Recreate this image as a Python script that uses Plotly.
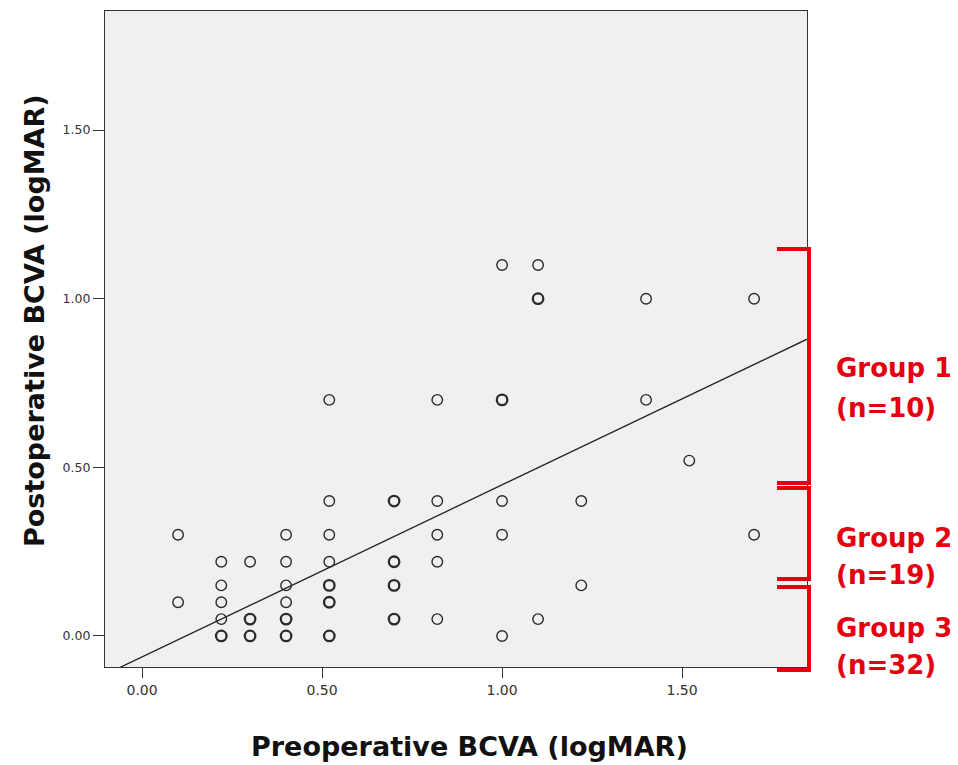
import plotly.graph_objects as go
from collections import Counter

# ---- data ----
pre_bcva = [
    1.00, 1.10,
    1.10, 1.10, 1.40, 1.70,
    0.52, 0.82, 1.00, 1.00, 1.40,
    1.52,
    0.52, 0.70, 0.70, 0.82, 1.00, 1.22,
    0.10, 0.40, 0.52, 0.82, 1.00, 1.70,
    0.22, 0.30, 0.40, 0.52, 0.70, 0.70, 0.82,
    0.22, 0.40, 0.52, 0.52, 0.70, 0.70, 1.22,
    0.10, 0.22, 0.40, 0.52, 0.52,
    0.22, 0.30, 0.30, 0.40, 0.40, 0.70, 0.70, 0.82, 1.10,
    0.22, 0.22, 0.30, 0.30, 0.40, 0.40, 0.52, 0.52, 1.00,
]
post_bcva = [
    1.10, 1.10,
    1.00, 1.00, 1.00, 1.00,
    0.70, 0.70, 0.70, 0.70, 0.70,
    0.52,
    0.40, 0.40, 0.40, 0.40, 0.40, 0.40,
    0.30, 0.30, 0.30, 0.30, 0.30, 0.30,
    0.22, 0.22, 0.22, 0.22, 0.22, 0.22, 0.22,
    0.15, 0.15, 0.15, 0.15, 0.15, 0.15, 0.15,
    0.10, 0.10, 0.10, 0.10, 0.10,
    0.05, 0.05, 0.05, 0.05, 0.05, 0.05, 0.05, 0.05, 0.05,
    0.00, 0.00, 0.00, 0.00, 0.00, 0.00, 0.00, 0.00, 0.00,
]
fit_intercept = -0.062
fit_slope = 0.51

x_ticks = [0.0, 0.5, 1.0, 1.5]
y_ticks = [0.0, 0.5, 1.0, 1.5]
x_range = [-0.103, 1.847]
y_range = [-0.092, 1.853]

group_lines = [("Group 1", "(n=10)"), ("Group 2", "(n=19)"), ("Group 3", "(n=32)")]

# ---- figure ----
OFF = 8  # page body margin
W, H = 958 - OFF, 765 - OFF
L, R, T, B = 105 - OFF, 807 - OFF, 11 - OFF, 667 - OFF

def px(xp):
    return (xp - OFF - L) / (R - L)

def py(yp):
    return (B - (yp - OFF)) / (B - T)

counts = Counter(zip(pre_bcva, post_bcva))
ux = [k[0] for k in counts]
uy = [k[1] for k in counts]
lw = [2.3 if counts[k] > 1 else 1.4 for k in counts]

fig = go.Figure()
fig.add_trace(go.Scatter(
    x=[x_range[0], x_range[1]],
    y=[fit_intercept + fit_slope * x_range[0], fit_intercept + fit_slope * x_range[1]],
    mode="lines", line=dict(color="#222222", width=1.3), hoverinfo="skip",
))
fig.add_trace(go.Scatter(
    x=ux, y=uy, mode="markers",
    marker=dict(symbol="circle-open", size=10.5, color="#2a2a2a", line=dict(width=lw, color="#2a2a2a")),
))

axis_common = dict(
    showgrid=False, zeroline=False, showline=True, linecolor="#333333", linewidth=1.3,
    mirror=True, ticks="outside", tickcolor="#333333", tickwidth=1.3,
    tickformat=".2f",
)
fig.update_xaxes(range=x_range, tickvals=x_ticks, ticklen=10,
                 tickfont=dict(family="DejaVu Sans", size=14, color="#333333"), **axis_common)
fig.update_yaxes(range=y_range, tickvals=y_ticks, ticklen=11,
                 tickfont=dict(family="DejaVu Sans", size=12.5, color="#333333"), **axis_common)

shapes = []
red = "#e50010"
brackets = [(249, 483), (488, 579), (587, 670)]
for (t, b) in brackets:
    shapes.append(dict(
        type="path", xref="paper", yref="paper",
        path=f"M {px(777)} {py(t)} L {px(809)} {py(t)} L {px(809)} {py(b)} L {px(777)} {py(b)}",
        line=dict(color=red, width=4),
    ))

title_font = dict(family="DejaVu Sans", size=27, color="#111111")
annotations = [
    dict(text="<b>Preoperative BCVA (logMAR)</b>", xref="paper", yref="paper",
         x=px(469), y=py(746), showarrow=False, xanchor="center", yanchor="middle",
         font=title_font),
    dict(text="<b>Postoperative BCVA (logMAR)</b>", xref="paper", yref="paper",
         x=px(34), y=py(321), showarrow=False, xanchor="center", yanchor="middle", textangle=-90,
         font=title_font),
]
label_y = [(368, 408), (538, 575), (628, 665)]
for (g, n), (y1, y2) in zip(group_lines, label_y):
    for txt, yy in ((g, y1), (n, y2)):
        annotations.append(dict(
            text=f"<b>{txt}</b>", xref="paper", yref="paper", x=px(834), y=py(yy),
            showarrow=False, xanchor="left", yanchor="middle",
            font=dict(family="DejaVu Sans", size=26, color=red),
        ))

fig.update_layout(
    width=W, height=H, showlegend=False,
    margin=dict(l=L, r=W - R, t=T, b=H - B, autoexpand=False),
    paper_bgcolor="white", plot_bgcolor="#f0f0f0",
    shapes=shapes, annotations=annotations,
)

fig.write_html("out.html")
